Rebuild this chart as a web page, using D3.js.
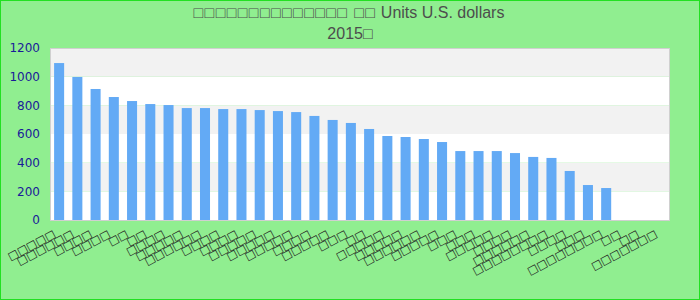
<!DOCTYPE html>
<html><head><meta charset="utf-8">
<script src="https://cdn.jsdelivr.net/npm/d3@7"></script>
<style>
html,body{margin:0;padding:0;background:#90ee90;}
svg{display:block;}
</style></head>
<body>
<svg id="chart" width="700" height="300"></svg>
<script>
const titleBoxes = "□□□□□□□□□□□□□□ □□";
const titleUnits = " Units U.S. dollars";
const titleLine2 = "2015□";
const categories = [
  "□□□□□","□□□□□□","□□□□","□□□□","□□","□□","□□□□","□□□□□","□□□□□□","□□□□",
  "□□□□","□□□□□","□□□□□","□□□□□","□□□□","□□□□□","□□□","□□","□□□□□","□□□□□",
  "□□□□□□","□□□□□","□□□","□□□","□□□□□","□□□□","□□□□□□","□□□□□□□□","□□□□","□□□",
  "□□□□□□□□","□□","□□","□□□□□□□"
];
const values = [
  1095, 998, 914, 858, 830, 809, 802, 781, 781, 774,
  774, 767, 760, 753, 726, 698, 677, 635, 586, 579,
  565, 544, 481, 481, 481, 467, 440, 433, 342, 244,
  223, null, null, null
];
const yTicks = [0, 200, 400, 600, 800, 1000, 1200];

const svg = d3.select("#chart");
const W = 700, H = 300;
const m = {left: 50, right: 30, top: 48, bottom: 80};

svg.append("rect").attr("x",0.5).attr("y",0.5).attr("width",W-1).attr("height",H-1)
  .attr("fill","#90ee90").attr("stroke","#22e022").attr("stroke-width",1);

const x = d3.scaleBand().domain(d3.range(categories.length))
  .range([m.left, W - m.right]).paddingInner(0.45).paddingOuter(0.225);
const y = d3.scaleLinear().domain([0, 1200]).range([H - m.bottom, m.top]);

// bands
const bands = d3.pairs(yTicks);
svg.append("g").selectAll("rect").data(bands).join("rect")
  .attr("x", m.left).attr("width", W - m.right - m.left)
  .attr("y", d => y(d[1])).attr("height", d => y(d[0]) - y(d[1]))
  .attr("fill", (d,i) => (bands.length - 1 - i) % 2 === 0 ? "#f2f2f2" : "#ffffff");

// bars
svg.append("g").selectAll("rect").data(values.map((v,i)=>({v,i})).filter(d=>d.v!=null)).join("rect")
  .attr("x", d => x(d.i)).attr("width", x.bandwidth())
  .attr("y", d => y(d.v)).attr("height", d => y(0) - y(d.v))
  .attr("fill", "#63aaf5");

// plot border
svg.append("rect").attr("x", m.left + 0.5).attr("y", m.top + 0.5)
  .attr("width", W - m.right - m.left - 1).attr("height", H - m.bottom - m.top)
  .attr("fill","none").attr("stroke","#d0d0d0").attr("stroke-width",1);

// y axis
const yAxis = d3.axisLeft(y).tickValues(yTicks).tickSize(0).tickPadding(10).tickFormat(d3.format("d"));
const gy = svg.append("g").attr("transform", `translate(${m.left},0)`).call(yAxis);
gy.select(".domain").remove();
gy.selectAll("text").attr("fill","#1a1a99").attr("font-family","DejaVu Sans")
  .attr("font-size", 12);

// x axis
const xAxis = d3.axisBottom(x).tickSize(0).tickFormat(i => categories[i]);
const gx = svg.append("g").attr("transform", `translate(0,${H - m.bottom})`).call(xAxis);
gx.select(".domain").remove();
gx.selectAll("text").attr("fill","#222").attr("font-family","DejaVu Sans")
  .attr("font-size", 11).attr("text-anchor","end")
  .attr("dy", 0).attr("y", 0)
  .attr("transform","translate(-3,16) rotate(-28)");

// title
const t = svg.append("g").attr("fill","#4d4d4d").attr("font-family","Liberation Sans, Arial, sans-serif")
  .attr("font-size", 16).attr("text-anchor","middle");
const t1 = t.append("text").attr("x", 349).attr("y", 18);
t1.append("tspan").attr("letter-spacing", 1.4).text(titleBoxes);
t1.append("tspan").text(titleUnits);
t.append("text").attr("x", 350).attr("y", 39).text(titleLine2);
</script>
</body></html>
